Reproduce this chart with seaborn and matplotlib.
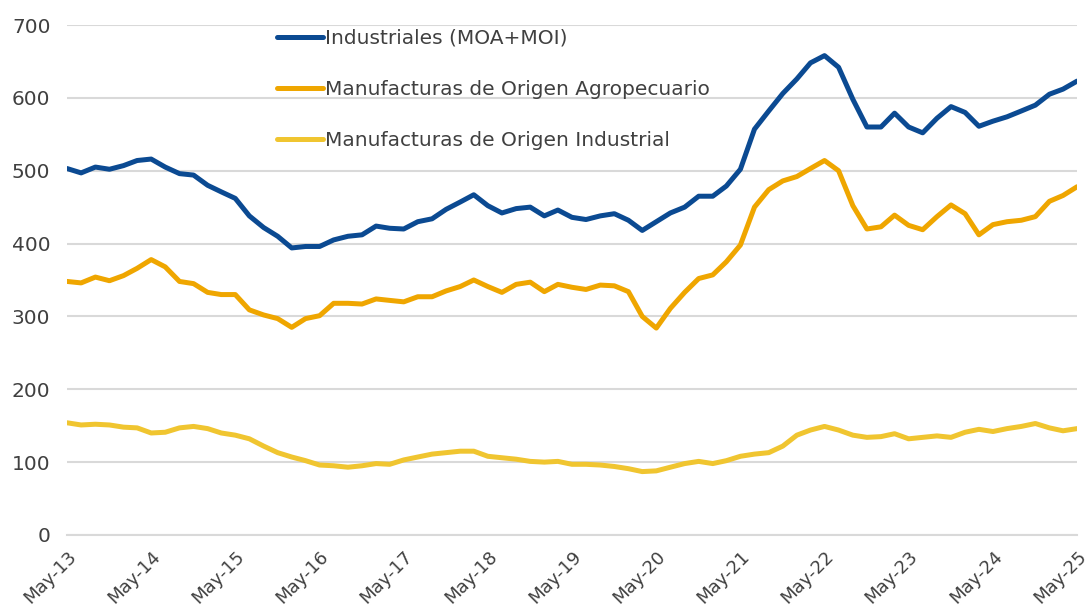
import pandas as pd
import matplotlib
matplotlib.use("Agg")
import matplotlib.pyplot as plt
import matplotlib.dates as mdates
import seaborn as sns

# Bi-monthly readings, May-2013 .. May-2025 (USD millions, approx. from the chart)
fechas = pd.date_range("2013-05-01", "2025-05-01", freq="2MS")

industriales = [
    503, 497, 505, 502, 507, 514, 516, 505, 496, 494, 480, 471, 462,
    438, 422, 410, 394, 396, 396, 405, 410, 412, 424, 421, 420,
    430, 434, 447, 457, 467, 452, 442, 448, 450, 438, 446, 436,
    433, 438, 441, 432, 418, 430, 442, 450, 465, 465, 479, 502,
    557, 582, 606, 626, 648, 658, 642, 598, 560, 560, 579, 560,
    552, 572, 588, 580, 561, 568, 574, 582, 590, 605, 612, 623,
]
moa = [
    348, 346, 354, 349, 356, 366, 378, 368, 348, 345, 333, 330, 330,
    309, 302, 297, 285, 297, 301, 318, 318, 317, 324, 322, 320,
    327, 327, 335, 341, 350, 341, 333, 344, 347, 334, 344, 340,
    337, 343, 342, 334, 300, 284, 311, 333, 352, 357, 375, 398,
    450, 474, 486, 492, 503, 514, 500, 452, 420, 423, 439, 425,
    419, 437, 453, 441, 412, 426, 430, 432, 437, 458, 466, 478,
]
moi = [
    154, 151, 152, 151, 148, 147, 140, 141, 147, 149, 146, 140, 137,
    132, 122, 113, 107, 102, 96, 95, 93, 95, 98, 97, 103,
    107, 111, 113, 115, 115, 108, 106, 104, 101, 100, 101, 97,
    97, 96, 94, 91, 87, 88, 93, 98, 101, 98, 102, 108,
    111, 113, 122, 137, 144, 149, 144, 137, 134, 135, 139, 132,
    134, 136, 134, 141, 145, 142, 146, 149, 153, 147, 143, 146,
]

series = ["Industriales (MOA+MOI)",
          "Manufacturas de Origen Agropecuario",
          "Manufacturas de Origen Industrial"]
colores = ["#0B4A92", "#EFA600", "#F0C530"]

df = pd.DataFrame({"fecha": fechas, series[0]: industriales,
                   series[1]: moa, series[2]: moi})
df_long = df.melt(id_vars="fecha", var_name="serie", value_name="valor")

sns.set_theme(style="white")
plt.rcParams["font.family"] = ["DejaVu Sans"]

fig = plt.figure(figsize=(10.85, 6.1), dpi=100)
ax = fig.add_axes([0.0618, 0.123, 0.9309, 0.836])

sns.lineplot(data=df_long, x="fecha", y="valor", hue="serie",
             hue_order=series, palette=colores, linewidth=3.6, ax=ax,
             solid_joinstyle="round", solid_capstyle="round")

ax.set_xlim(pd.Timestamp("2013-05-01"), pd.Timestamp("2025-05-01"))
ax.set_ylim(0, 700)
ax.set_yticks(range(0, 701, 100))
ax.xaxis.set_major_locator(mdates.MonthLocator(bymonth=5))
ax.xaxis.set_major_formatter(mdates.DateFormatter("May-%y"))
ax.grid(axis="y", color="#D9D9D9", linewidth=1.5)
ax.set_axisbelow(True)
ax.set_xlabel("")
ax.set_ylabel("")

for s in ["left", "right", "top"]:
    ax.spines[s].set_visible(False)
ax.spines["bottom"].set_color("#D9D9D9")
ax.spines["bottom"].set_linewidth(1.5)
ax.tick_params(axis="x", colors="#D9D9D9", length=7, width=1.5,
               labelcolor="#404040", labelsize=13, pad=2)
ax.tick_params(axis="y", length=0, labelcolor="#404040", labelsize=14.5, pad=12)
plt.setp(ax.get_xticklabels(), rotation=45, ha="right", rotation_mode="anchor")

leg = ax.legend(loc="upper left", bbox_to_anchor=(0.198, 1.012), frameon=False,
                fontsize=14.5, handlelength=2.3, handletextpad=0.1,
                labelspacing=1.6, borderpad=0)
for t in leg.get_texts():
    t.set_color("#404040")
for h in leg.get_lines():
    h.set_linewidth(3.6)

fig.savefig("out.png", dpi=100)
